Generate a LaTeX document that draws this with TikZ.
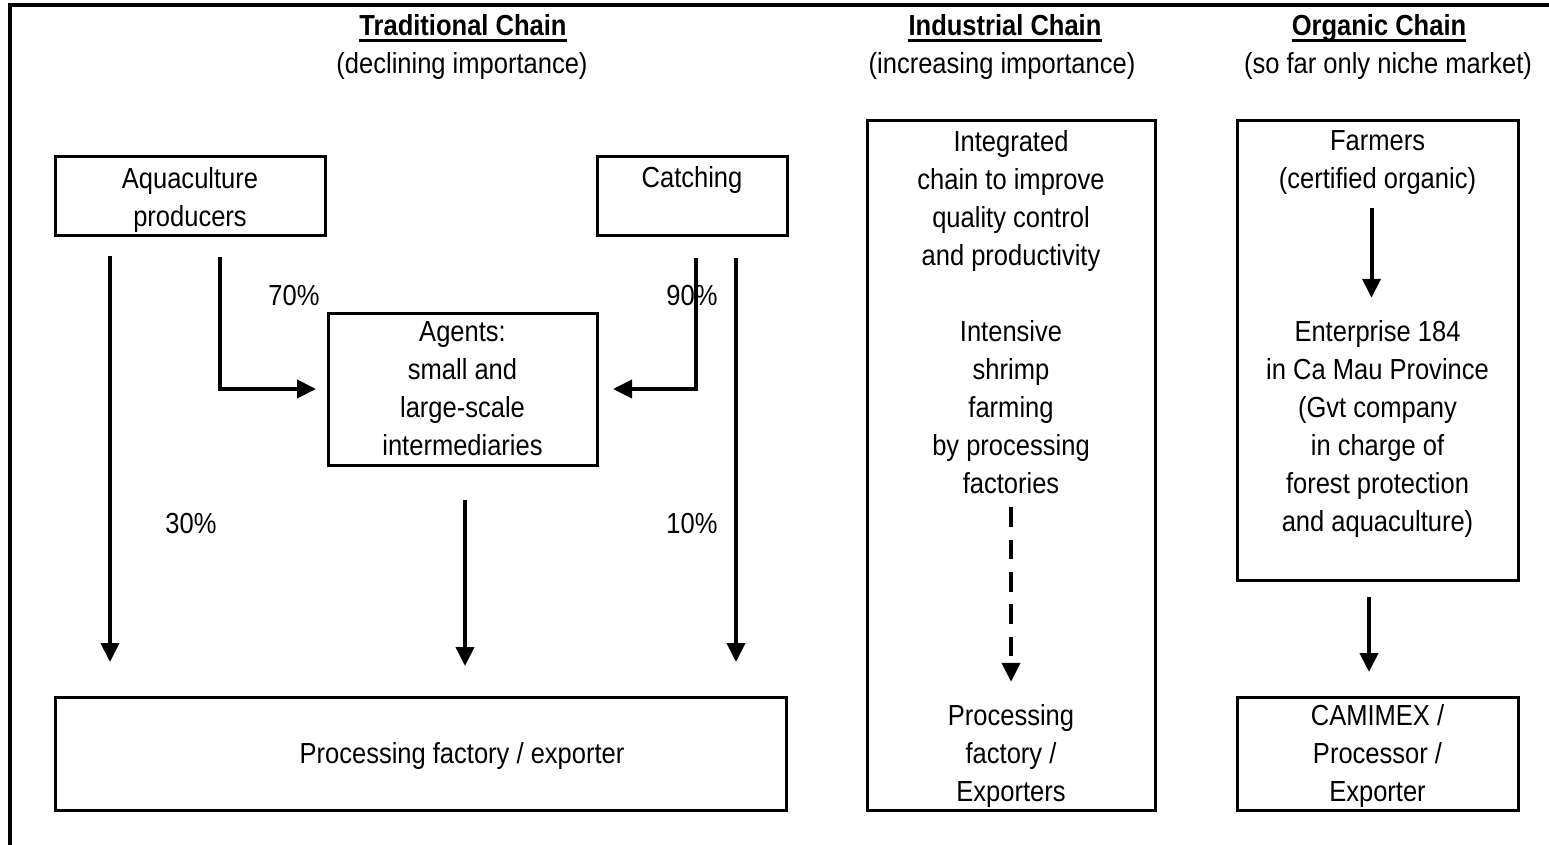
\documentclass[tikz,border=0pt]{standalone}
\usepackage{fontspec}
\usetikzlibrary{arrows.meta}
\newfontfamily\bodyfont{Liberation Sans}[FakeStretch=0.88]
\begin{document}
\begin{tikzpicture}[x=1pt,y=-1pt,
  box/.style={draw, line width=3pt, rectangle, inner sep=0pt, outer sep=0pt, anchor=north west},
  % multi-line texts are placed by the baseline of their last line
  txt/.style={font=\bodyfont\fontsize{29}{38}\selectfont, align=center, inner sep=0pt, anchor=base},
  head/.style={txt, font=\bodyfont\bfseries\fontsize{29}{38}\selectfont},
  ulin/.style={line width=3pt},
  arr/.style={line width=4pt, -{Triangle[length=19pt,width=18pt]}},
  darr/.style={arr, dash pattern=on 19.5pt off 12.8pt},
]
\useasboundingbox (0,0) rectangle (1549,845);

% outer frame (top and left edges)
\draw[line width=3.5pt] (10,850) -- (10,5) -- (1555,5);

% column headings
\node[head] (th1) at (463,35.5) {Traditional Chain};
\node[txt]  (th2) at (462,73.5) {(declining importance)};
\node[head] (ih1) at (1005,35.5) {Industrial Chain};
\node[txt]  (ih2) at (1002,73.5) {(increasing importance)};
\node[head] (oh1) at (1379,35.5) {Organic Chain};
\node[txt]  (oh2) at (1388,73.5) {(so far only niche market)};
\foreach \h in {th1,ih1,oh1}
  \draw[ulin] ([yshift=-5.5pt]\h.base west) -- ([yshift=-5.5pt]\h.base east);

% traditional chain
\node[box, minimum width=270pt, minimum height=78pt] (aqua) at (55,157) {};
\node[txt] (aquat) at (190,226) {Aquaculture\\producers};
\node[box, minimum width=190pt, minimum height=78pt] (catch) at (597,157) {};
\node[txt] (catcht) at (692,188) {Catching};
\node[box, minimum width=269pt, minimum height=152pt] (agents) at (328,313) {};
\node[txt] (agentst) at (462.5,455.5) {Agents:\\small and\\large-scale\\intermediaries};
\node[box, minimum width=731pt, minimum height=113pt] (proc) at (55,697) {};
\node[txt] (proct) at (462,763) {Processing factory / exporter};

\node[txt] (p70) at (294,305) {70\%};
\node[txt] (p90) at (692,305) {90\%};
\node[txt] (p30) at (191,533) {30\%};
\node[txt] (p10) at (692,533) {10\%};

\draw[arr, shorten <=21pt, shorten >=35pt] ([xshift=-80pt]aqua.south) -- ([xshift=-80pt]aqua.south |- proc.north);
\draw[arr, shorten <=22pt, shorten >=12pt] ([xshift=30pt]aqua.south) |- (agents.west);
\draw[arr, shorten <=23pt, shorten >=16pt] ([xshift=4pt]catch.south) |- (agents.east);
\draw[arr, shorten <=23pt, shorten >=35pt] ([xshift=44pt]catch.south) -- ([xshift=44pt]catch.south |- proc.north);
\draw[arr, shorten <=35pt, shorten >=31pt] ([xshift=2.5pt]agents.south) -- ([xshift=2.5pt]agents.south |- proc.north);

% industrial chain
\node[box, minimum width=288pt, minimum height=689pt] (ind) at (867,121) {};
\node[txt] (indt1) at (1011,265) {Integrated\\chain to improve\\quality control\\and productivity};
\node[txt] (indt2) at (1011,493) {Intensive\\shrimp\\farming\\by processing\\factories};
\node[txt] (indt3) at (1011,801) {Processing\\factory /\\Exporters};
\draw[darr, shorten <=14pt, shorten >=22pt] (indt2.south) -- (indt3.north);

% organic chain
\node[box, minimum width=281pt, minimum height=459pt] (org) at (1237,121) {};
\node[txt] (farm) at (1377.5,189) {Farmers\\(certified organic)};
\node[txt] (ent) at (1377.5,531) {Enterprise 184\\in Ca Mau Province\\(Gvt company\\in charge of\\forest protection\\and aquaculture)};
\node[box, minimum width=281pt, minimum height=113pt] (cam) at (1237,697) {};
\node[txt] (camt) at (1377.5,801) {CAMIMEX /\\Processor /\\Exporter};
\draw[arr, shorten <=13pt, shorten >=22pt] ([xshift=-6pt]farm.south) -- ([xshift=-6pt]farm.south |- ent.north);
\draw[arr, shorten <=17pt, shorten >=25pt] ([xshift=-8.5pt]org.south) -- ([xshift=-8.5pt]org.south |- cam.north);
\end{tikzpicture}
\end{document}
